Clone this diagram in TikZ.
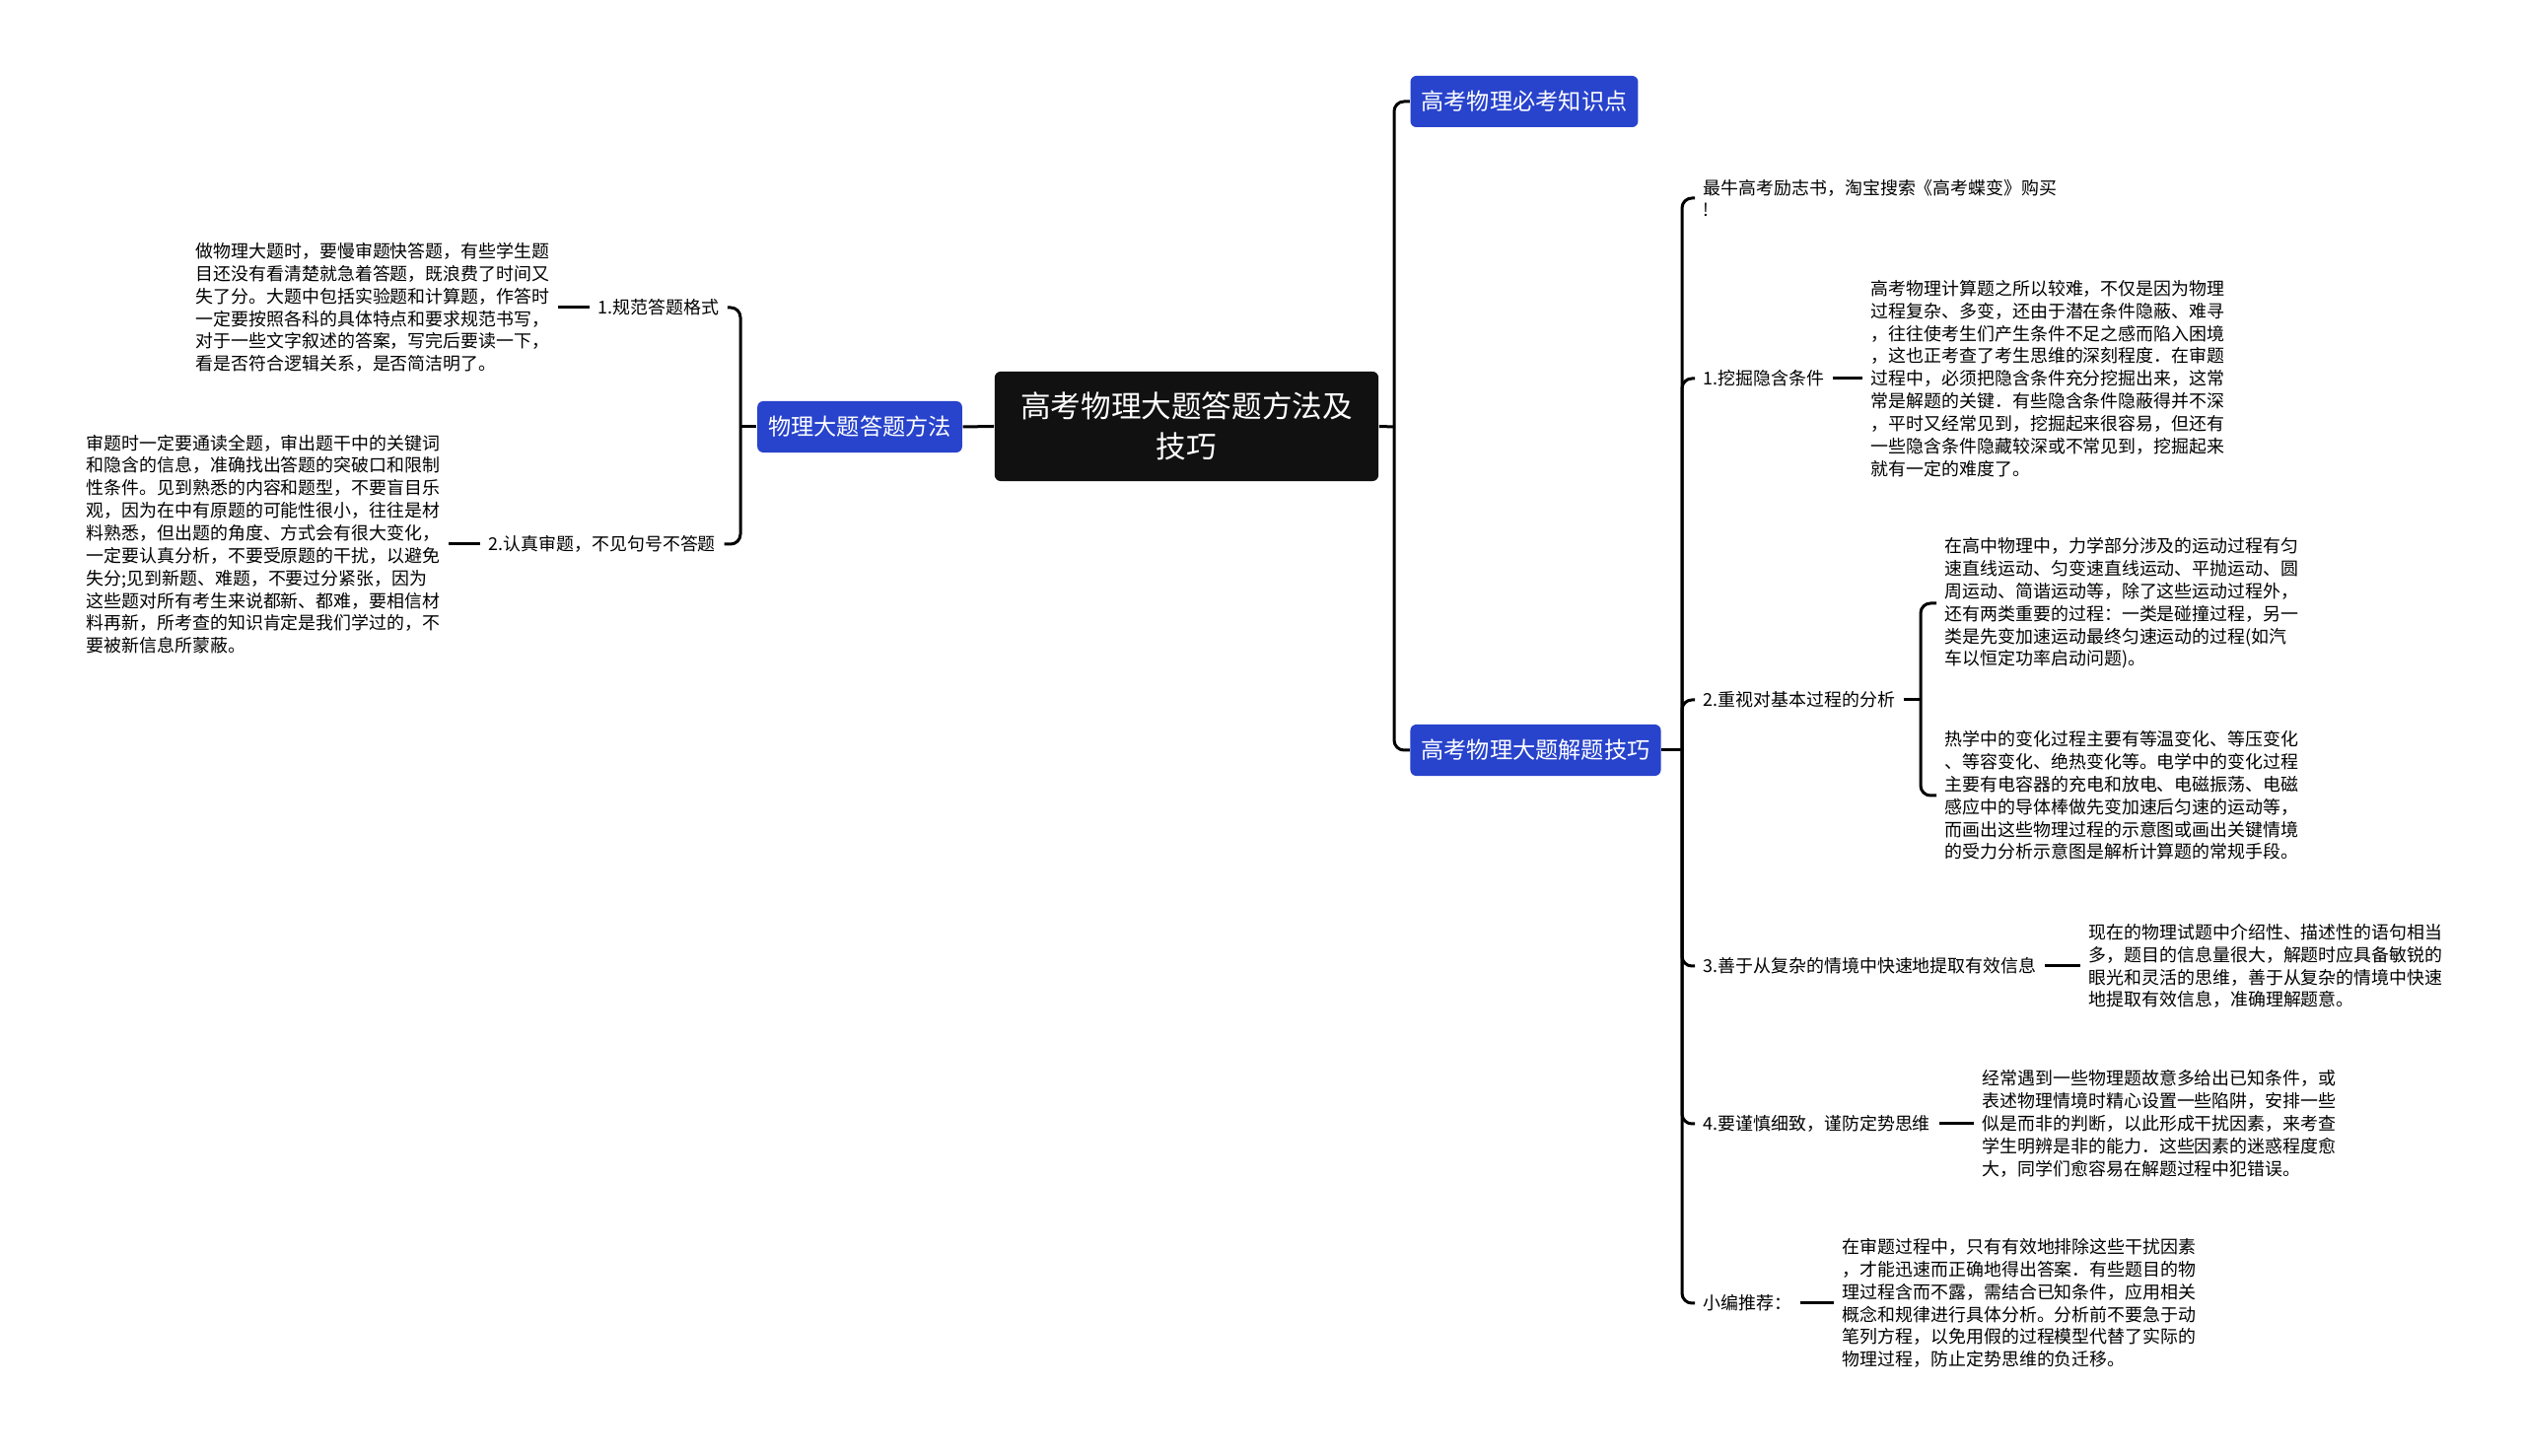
\documentclass[tikz,border=0pt]{standalone}
\usepackage{fontspec}
\setmainfont{Noto Sans CJK SC}
\usepackage{xcolor}
\usepackage{tikz}
\usetikzlibrary{positioning,calc}

\definecolor{catblue}{RGB}{40,67,204}
\definecolor{rootblack}{RGB}{17,17,17}

\tikzset{
    link/.style={line width=0.03cm, rounded corners=0.1cm},
    rootbox/.style={fill=rootblack, text=white, rounded corners=0.06cm, align=center,
        minimum width=3.89cm, minimum height=1.11cm, font=\fontsize{8.7}{11.6}\selectfont},
    catbox/.style={fill=catblue, text=white, rounded corners=0.06cm, inner xsep=0.11cm,
        minimum height=0.52cm, font=\fontsize{6.6}{8}\selectfont},
    lbl/.style={anchor=west, inner xsep=0.08cm, inner ysep=0pt, font=\fontsize{5.1}{6.5}\selectfont},
    para/.style={anchor=west, align=left, inner xsep=0.08cm, inner ysep=0pt, font=\fontsize{5.1}{6.5}\selectfont}
}

\begin{document}
\begin{tikzpicture}[x=0.01cm, y=-0.01cm]
    \useasboundingbox (0,0) rectangle (2560,1477);

    \node[rootbox] (root) at (1203.5,432.5) {高考物理大题答题方法及\\技巧};

    % left side
    \node[catbox] (method) at (872,433) {物理大题答题方法};
    \node[lbl] (fmt) at (598,312) {1.规范答题格式};
    \node[para] (fmtText) at (190,312) {做物理大题时，要慢审题快答题，有些学生题\\目还没有看清楚就急着答题，既浪费了时间又\\失了分。大题中包括实验题和计算题，作答时\\一定要按照各科的具体特点和要求规范书写，\\对于一些文字叙述的答案，写完后要读一下，\\看是否符合逻辑关系，是否简洁明了。};
    \node[lbl] (read) at (487,552) {2.认真审题，不见句号不答题};
    \node[para] (readText) at (79,552) {审题时一定要通读全题，审出题干中的关键词\\和隐含的信息，准确找出答题的突破口和限制\\性条件。见到熟悉的内容和题型，不要盲目乐\\观，因为在中有原题的可能性很小，往往是材\\料熟悉，但出题的角度、方式会有很大变化，\\一定要认真分析，不要受原题的干扰，以避免\\失分;见到新题、难题，不要过分紧张，因为\\这些题对所有考生来说都新、都难，要相信材\\料再新，所考查的知识肯定是我们学过的，不\\要被新信息所蒙蔽。};

    % right side
    \node[catbox] (must) at (1546,103) {高考物理必考知识点};
    \node[catbox] (skill) at (1557.5,761) {高考物理大题解题技巧};

    \node[para] (ad) at (1719,201) {最牛高考励志书，淘宝搜索《高考蝶变》购买\\!};
    \node[lbl] (hidden) at (1719,384) {1.挖掘隐含条件};
    \node[para] (hiddenText) at (1889,384) {高考物理计算题之所以较难，不仅是因为物理\\过程复杂、多变，还由于潜在条件隐蔽、难寻\\，往往使考生们产生条件不足之感而陷入困境\\，这也正考查了考生思维的深刻程度．在审题\\过程中，必须把隐含条件充分挖掘出来，这常\\常是解题的关键．有些隐含条件隐蔽得并不深\\，平时又经常见到，挖掘起来很容易，但还有\\一些隐含条件隐藏较深或不常见到，挖掘起来\\就有一定的难度了。};
    \node[lbl] (process) at (1719,710) {2.重视对基本过程的分析};
    \node[para] (procA) at (1964,612) {在高中物理中，力学部分涉及的运动过程有匀\\速直线运动、匀变速直线运动、平抛运动、圆\\周运动、简谐运动等，除了这些运动过程外，\\还有两类重要的过程：一类是碰撞过程，另一\\类是先变加速运动最终匀速运动的过程(如汽\\车以恒定功率启动问题)。};
    \node[para] (procB) at (1964,807) {热学中的变化过程主要有等温变化、等压变化\\、等容变化、绝热变化等。电学中的变化过程\\主要有电容器的充电和放电、电磁振荡、电磁\\感应中的导体棒做先变加速后匀速的运动等，\\而画出这些物理过程的示意图或画出关键情境\\的受力分析示意图是解析计算题的常规手段。};
    \node[lbl] (extract) at (1719,980) {3.善于从复杂的情境中快速地提取有效信息};
    \node[para] (extractText) at (2110,980) {现在的物理试题中介绍性、描述性的语句相当\\多，题目的信息量很大，解题时应具备敏锐的\\眼光和灵活的思维，善于从复杂的情境中快速\\地提取有效信息，准确理解题意。};
    \node[lbl] (careful) at (1719,1140) {4.要谨慎细致，谨防定势思维};
    \node[para] (carefulText) at (2002,1140) {经常遇到一些物理题故意多给出已知条件，或\\表述物理情境时精心设置一些陷阱，安排一些\\似是而非的判断，以此形成干扰因素，来考查\\学生明辨是非的能力．这些因素的迷惑程度愈\\大，同学们愈容易在解题过程中犯错误。};
    \node[lbl] (tip) at (1719,1322) {小编推荐：};
    \node[para] (tipText) at (1860,1322) {在审题过程中，只有有效地排除这些干扰因素\\，才能迅速而正确地得出答案．有些题目的物\\理过程含而不露，需结合已知条件，应用相关\\概念和规律进行具体分析。分析前不要急于动\\笔列方程，以免用假的过程模型代替了实际的\\物理过程，防止定势思维的负迁移。};

    \coordinate (lj) at (751,433);
    \coordinate (rj) at (1414,433);
    \coordinate (sj) at (1706,761);
    \coordinate (pj) at (1948,710);

    \draw[link] (root.west) -- (method.east);
    \draw[link] (method.west) -- (lj);
    \foreach \n in {fmt,read}
        \draw[link] (lj) |- (\n.east);
    \draw[link] (fmtText.east) -- (fmt.west);
    \draw[link] (readText.east) -- (read.west);

    \draw[link] (root.east) -- (rj);
    \foreach \n in {must,skill}
        \draw[link] (rj) |- (\n.west);
    \draw[link] (skill.east) -- (sj);
    \foreach \n in {ad,hidden,process,extract,careful,tip}
        \draw[link] (sj) |- (\n.west);
    \draw[link] (process.east) -- (pj);
    \foreach \n in {procA,procB}
        \draw[link] (pj) |- (\n.west);
    \draw[link] (hidden.east) -- (hiddenText.west);
    \draw[link] (extract.east) -- (extractText.west);
    \draw[link] (careful.east) -- (carefulText.west);
    \draw[link] (tip.east) -- (tipText.west);
\end{tikzpicture}
\end{document}
